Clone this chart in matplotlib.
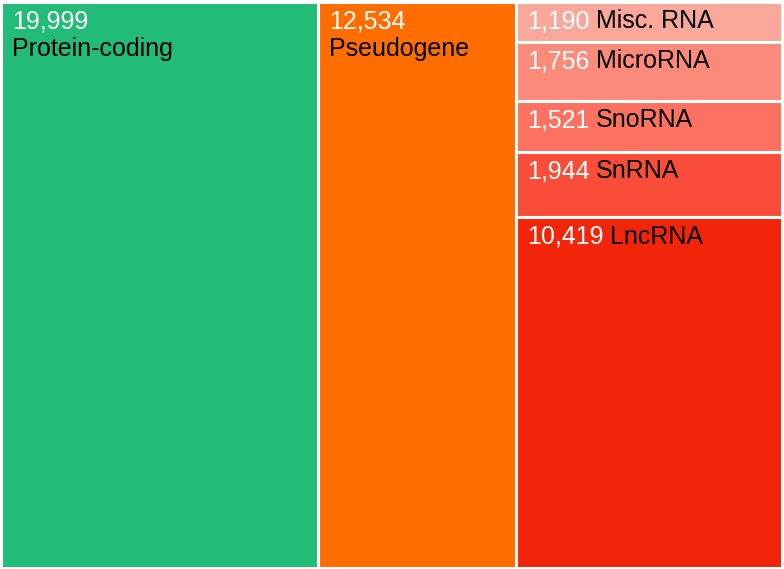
import matplotlib.pyplot as plt
from matplotlib.patches import Rectangle

plt.rcParams['font.family'] = ['Liberation Sans', 'DejaVu Sans']

# gene biotypes: first two get a full column each, the rest share the third
big_names = ["Protein-coding", "Pseudogene"]
big_counts = [19999, 12534]
big_colors = ["#22bb77", "#ff6d00"]

rna_names = ["Misc. RNA", "MicroRNA", "SnoRNA", "SnRNA", "LncRNA"]
rna_counts = [1190, 1756, 1521, 1944, 10419]
rna_colors = ["#f9a69b", "#fc8a7a", "#fd7160", "#f94d39", "#f2250a"]

W, H = 784, 569
fig = plt.figure(figsize=(W / 100, H / 100), dpi=100)
ax = fig.add_axes([0, 0, 1, 1])
ax.set_xlim(0, W)
ax.set_ylim(H, 0)
ax.axis("off")

x0, x1, y0, y1 = 1.5, W - 1.5, 1.5, H - 1.5
total = sum(big_counts) + sum(rna_counts)
fs = 18


def box(x, y, w, h, color):
    ax.add_patch(Rectangle((x, y), w, h, facecolor=color, edgecolor="white", lw=2.2))


def fmt(n):
    return f"{n:,}"


x = x0
for name, n, c in zip(big_names, big_counts, big_colors):
    w = (x1 - x0) * n / total
    box(x, y0, w, y1 - y0, c)
    ax.text(x + 11, y0 + 27, fmt(n), color="white", fontsize=fs, va="baseline")
    ax.text(x + 11, y0 + 54, name, color="black", fontsize=fs, va="baseline")
    x += w

w = x1 - x
y = y0
rna_total = sum(rna_counts)
for name, n, c in zip(rna_names, rna_counts, rna_colors):
    h = (y1 - y0) * n / rna_total
    box(x, y, w, h, c)
    t = ax.text(x + 11, y + 26.5, fmt(n), color="white", fontsize=fs, va="baseline")
    ax.annotate(name, xy=(1, 0), xycoords=t, xytext=(4.5, 0), textcoords="offset points",
                color="black", fontsize=fs, va="bottom")
    y += h

fig.savefig("out.png", dpi=100)
